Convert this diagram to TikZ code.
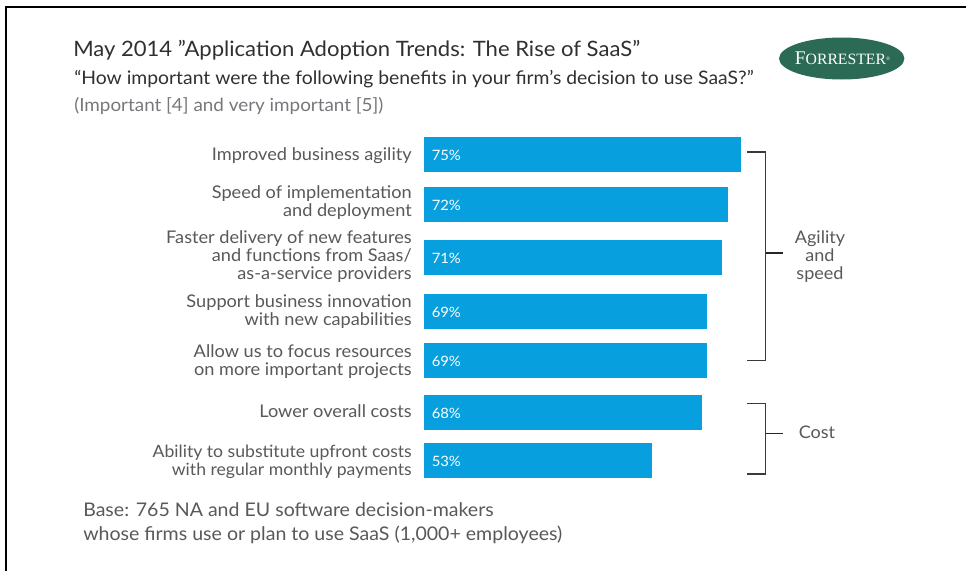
\documentclass[tikz,border=0pt]{standalone}
\usepackage{fontspec}
\usetikzlibrary{shapes.geometric}
\setmainfont{Lato}[FakeStretch=1.04]
\newfontfamily\logofont{Liberation Serif}
\definecolor{barblue}{HTML}{079FDD}
\definecolor{labgray}{HTML}{58595B}
\definecolor{lightgray}{HTML}{76787B}
\definecolor{titledark}{HTML}{2F3033}
\definecolor{logogreen}{HTML}{2B6A54}
\definecolor{brk}{HTML}{3A3A3C}
\tikzset{
  barbox/.style={fill=barblue,draw=none,inner sep=0pt,outer sep=0pt,anchor=north west},
  pct/.style={text=white,font=\fontsize{10.7pt}{12pt}\selectfont,anchor=west,inner sep=0pt},
  lab/.style={text=labgray,font=\fontsize{13.1pt}{13.5pt}\selectfont,align=right,anchor=east,inner sep=0pt},
  labtight/.style={lab,font=\fontsize{12.7pt}{13.5pt}\selectfont},
  grp/.style={text=labgray,font=\fontsize{13pt}{13.5pt}\selectfont,align=center,inner sep=0pt},
  brack/.style={draw=brk,line width=0.9pt},
  tick/.style={draw=black!85,line width=1.1pt},
  free/.style={text=labgray,anchor=base west,inner sep=0pt}
}
\newcommand{\barrow}[7][lab]{% style, name, x-end, ytop, pct, label, label offset
  \node[barbox,minimum width=#3*0.75pt-318pt,minimum height=26.25pt] (#2) at (424,#4) {};
  \node[pct] (#2p) at (431.5,#4+18) {#5};
  \node[#1] (#2l) at (412,#4+#7) {#6};
}
\begin{document}
\begin{tikzpicture}[x=0.75pt,y=-0.75pt]
\useasboundingbox (0,0) rectangle (966,571);
\fill[white] (0,0) rectangle (966,571);
\coordinate (bl) at (6,571);
\coordinate (tl) at (6,7);
\coordinate (tr) at (966,7);
\draw[black,line width=1.9pt] (bl) -- (tl) -- (tr);

\node[free,text=titledark,font=\fontsize{15.9pt}{18pt}\selectfont] (title) at (73,56) {May 2014 ”Application Adoption Trends: The Rise of SaaS”};
\node[free,text=titledark,font=\fontsize{13.95pt}{16pt}\selectfont] (sub) at (74,84) {“How important were the following benefits in your firm’s decision to use SaaS?”};
\node[free,text=lightgray,font=\fontsize{13.6pt}{16pt}\selectfont] (sub2) at (74,111) {(Important [4] and very important [5])};

\node[fill=logogreen,draw=none,ellipse,minimum width=94pt,minimum height=31.5pt,inner sep=0pt] (logo) at (841.7,58.5) {};
\node[text=white,inner sep=0pt,font=\logofont\fontsize{14.5pt}{14pt}\selectfont] (logot) at (842.5,58.5) {F{\fontsize{11.8pt}{12pt}\selectfont ORRESTER}\raisebox{3.5pt}{\fontsize{4pt}{4pt}\selectfont®}};

\barrow{a}{741}{137}{75\%}{Improved business agility}{18.5}
\barrow{b}{728}{187}{72\%}{Speed of implementation\\and deployment}{16}
\barrow{c}{722}{240}{71\%}{Faster delivery of new features\\and functions from Saas/\\as-a-service providers}{17}
\barrow{d}{707}{294}{69\%}{Support business innovation\\with new capabilities}{18}
\barrow{e}{707}{343}{69\%}{Allow us to focus resources\\on more important projects}{19}
\barrow{f}{702}{395}{68\%}{Lower overall costs}{16.5}
\barrow[labtight]{g}{652}{443}{53\%}{Ability to substitute upfront costs\\with regular monthly payments}{19}

\coordinate (b1a) at (747,152); \coordinate (b1b) at (765.5,152);
\coordinate (b1c) at (765.5,360.5); \coordinate (b1d) at (747,360.5);
\coordinate (b1m) at (765.5,253); \coordinate (b1t) at (783,253);
\draw[brack] (b1a) -- (b1b) -- (b1c) -- (b1d);
\draw[tick] (b1m) -- (b1t);
\node[grp] (agil) at (820,257) {Agility\\and\\speed};

\coordinate (b2a) at (747,403.5); \coordinate (b2b) at (765.5,403.5);
\coordinate (b2c) at (765.5,474); \coordinate (b2d) at (747,474);
\coordinate (b2m) at (765.5,433.5); \coordinate (b2t) at (783,433.5);
\draw[brack] (b2a) -- (b2b) -- (b2c) -- (b2d);
\draw[tick] (b2m) -- (b2t);
\node[grp] (cost) at (817,432) {Cost};

\node[free,font=\fontsize{14.1pt}{16pt}\selectfont] (base1) at (83,516) {Base: 765 NA and EU software decision-makers};
\node[free,font=\fontsize{14.1pt}{16pt}\selectfont] (base2) at (83,540) {whose firms use or plan to use SaaS (1,000+ employees)};
\end{tikzpicture}
\end{document}
